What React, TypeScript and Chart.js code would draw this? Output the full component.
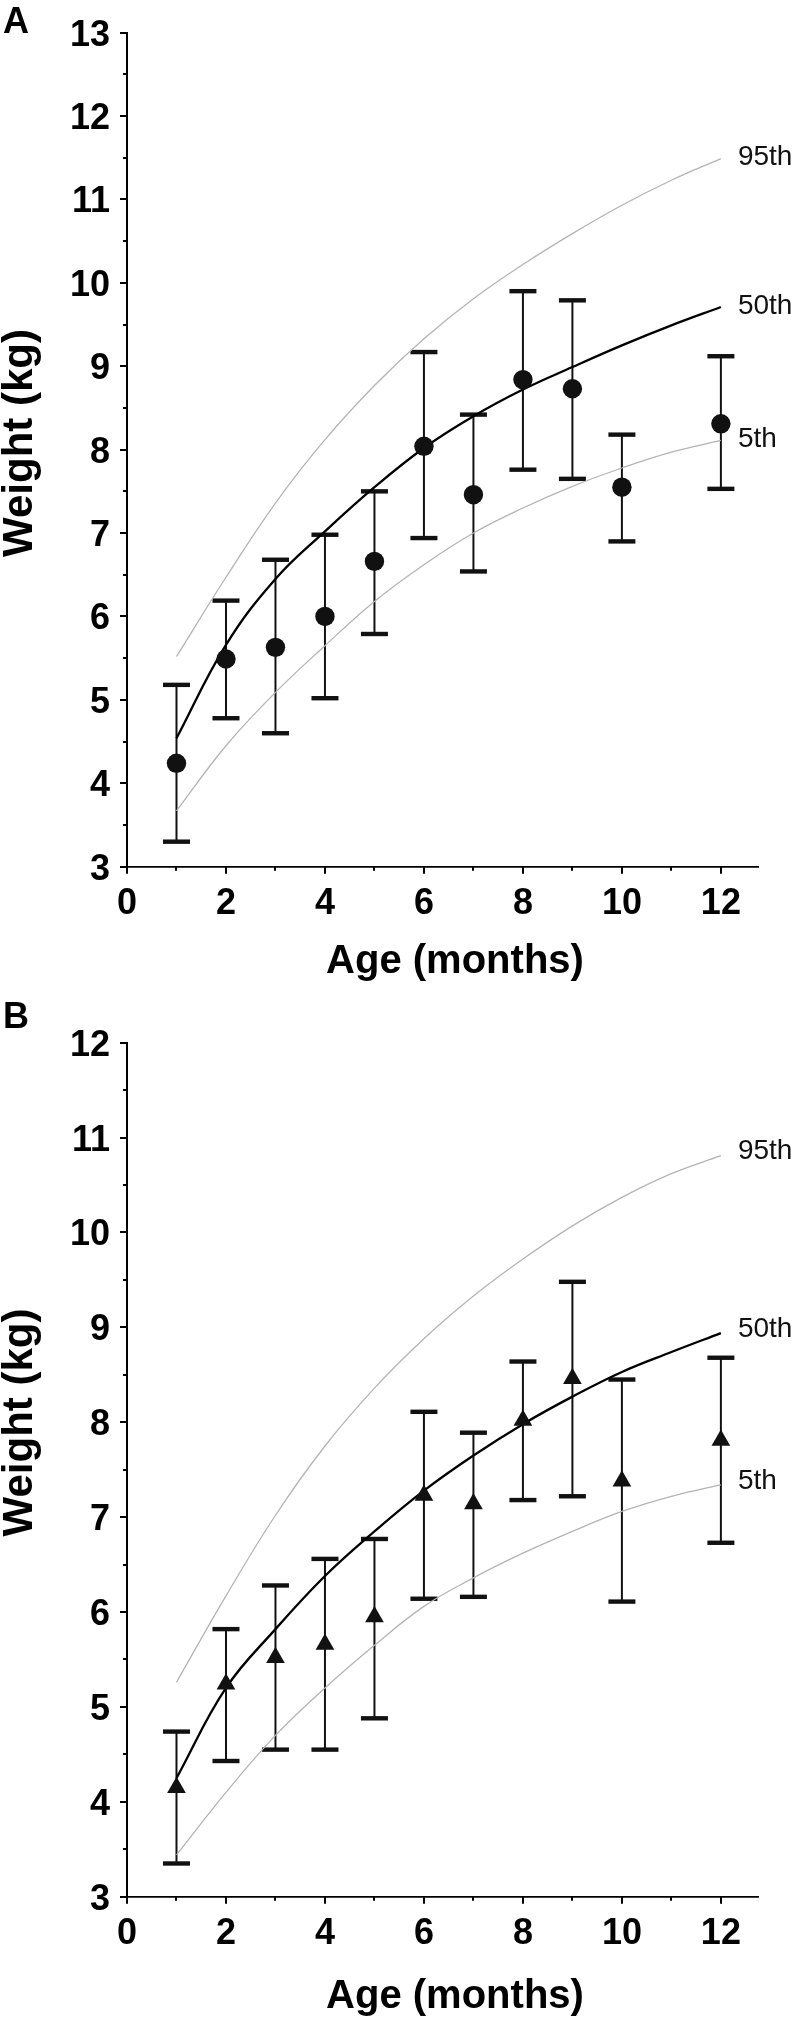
import React, { useEffect, useRef } from "react";
import { Chart, registerables } from "chart.js";

Chart.register(...registerables);

const FONT = '"Liberation Sans", Arial, Helvetica, sans-serif';

// ---------- data ----------
const MONTHS_OBS = [1, 2, 3, 4, 5, 6, 7, 8, 9, 10, 12];
const MONTHS_REF = [1, 2, 3, 4, 5, 6, 7, 8, 9, 10, 11, 12];
const X_TICK_LABELS = ["0", "2", "4", "6", "8", "10", "12"];
const Y_TICK_LABELS_A = ["3", "4", "5", "6", "7", "8", "9", "10", "11", "12", "13"];
const Y_TICK_LABELS_B = ["3", "4", "5", "6", "7", "8", "9", "10", "11", "12"];
const PERCENTILE_LABELS = ["95th", "50th", "5th"];
const X_TITLE = "Age (months)";
const Y_TITLE = "Weight (kg)";

// Panel A (circles)
const meanA = [4.24, 5.49, 5.63, 6.0, 6.66, 8.04, 7.46, 8.84, 8.73, 7.55, 8.31];
const upperA = [5.18, 6.19, 6.68, 6.98, 7.5, 9.17, 8.42, 9.9, 9.79, 8.18, 9.12];
const lowerA = [3.3, 4.78, 4.6, 5.02, 5.79, 6.94, 6.54, 7.76, 7.65, 6.9, 7.53];
const p95A = [5.52, 6.47, 7.36, 8.12, 8.77, 9.33, 9.81, 10.22, 10.59, 10.93, 11.23, 11.49];
const p50A = [4.54, 5.66, 6.45, 7.02, 7.55, 8.02, 8.4, 8.72, 8.99, 9.25, 9.49, 9.71];
const p5A = [3.67, 4.45, 5.09, 5.65, 6.18, 6.62, 7.0, 7.3, 7.56, 7.78, 7.97, 8.11];

// Panel B (triangles)
const meanB = [4.15, 5.24, 5.52, 5.66, 5.95, 7.23, 7.14, 8.02, 8.46, 7.38, 7.81];
const upperB = [4.74, 5.82, 6.28, 6.56, 6.77, 8.11, 7.89, 8.64, 9.48, 8.45, 8.68];
const lowerB = [3.35, 4.43, 4.55, 4.55, 4.88, 6.14, 6.16, 7.18, 7.22, 6.11, 6.73];
const p95B = [5.26, 6.17, 7.02, 7.75, 8.36, 8.88, 9.33, 9.72, 10.07, 10.37, 10.62, 10.81];
const p50B = [4.25, 5.2, 5.82, 6.38, 6.85, 7.28, 7.65, 7.98, 8.27, 8.53, 8.74, 8.94];
const p5B = [3.44, 4.1, 4.7, 5.2, 5.65, 6.06, 6.36, 6.62, 6.85, 7.06, 7.22, 7.34];

type PanelSpec = {
  letter: string;
  top: number;
  height: number;
  padTop: number;
  chartBottom: number;
  yMin: number;
  yMax: number;
  yTicks: string[];
  mean: number[];
  upper: number[];
  lower: number[];
  p95: number[];
  p50: number[];
  p5: number[];
  marker: "circle" | "triangle";
  markerRadius: number;
  letterBaseline: number;
  yTitleCenter: number;
  xTitleBaseline: number;
  labelDy: number;
};

// positions below are relative to each panel's own canvas
const PANELS: PanelSpec[] = [
  {
    letter: "A",
    top: 0,
    height: 1000,
    padTop: 12.3,
    chartBottom: 866.7,
    yMin: 3,
    yMax: 13,
    yTicks: Y_TICK_LABELS_A,
    mean: meanA,
    upper: upperA,
    lower: lowerA,
    p95: p95A,
    p50: p50A,
    p5: p5A,
    marker: "circle",
    markerRadius: 9.7,
    letterBaseline: 33,
    yTitleCenter: 443,
    xTitleBaseline: 973,
    labelDy: -1,
  },
  {
    letter: "B",
    top: 1000,
    height: 1017,
    padTop: 42.7,
    chartBottom: 896.7,
    yMin: 3,
    yMax: 12,
    yTicks: Y_TICK_LABELS_B,
    mean: meanB,
    upper: upperB,
    lower: lowerB,
    p95: p95B,
    p50: p50B,
    p5: p5B,
    marker: "triangle",
    markerRadius: 10.8,
    letterBaseline: 28,
    yTitleCenter: 422.5,
    xTitleBaseline: 1008,
    labelDy: -4,
  },
];

const WIDTH = 797;
const Y_AXIS_WIDTH = 127;
const X_MAX = 12.75;

function makeDecorPlugin(p: PanelSpec) {
  return {
    id: "decor" + p.letter,
    beforeDatasetsDraw(chart: any) {
      const ctx = chart.ctx;
      const xs = chart.scales.x;
      const ys = chart.scales.y;
      ctx.save();
      ctx.strokeStyle = "#111";
      ctx.fillStyle = "#111";
      ctx.lineWidth = 2;
      MONTHS_OBS.forEach((m, i) => {
        const px = xs.getPixelForValue(m);
        const yU = ys.getPixelForValue(p.upper[i]);
        const yL = ys.getPixelForValue(p.lower[i]);
        ctx.beginPath();
        ctx.moveTo(px, yU);
        ctx.lineTo(px, yL);
        ctx.stroke();
        ctx.fillRect(px - 13.5, yU - 2.2, 27, 4.4);
        ctx.fillRect(px - 13.5, yL - 2.2, 27, 4.4);
      });
      ctx.restore();
    },
    afterDraw(chart: any) {
      const ctx = chart.ctx;
      const xs = chart.scales.x;
      const ys = chart.scales.y;
      ctx.save();
      // tick marks (major / minor)
      ctx.strokeStyle = "#000";
      ctx.lineWidth = 2;
      ctx.beginPath();
      xs.ticks.forEach((t: any) => {
        const px = Math.round(xs.getPixelForValue(t.value));
        const major = X_TICK_LABELS.includes(String(t.value));
        ctx.moveTo(px, xs.top);
        ctx.lineTo(px, xs.top + (major ? 7 : 4));
      });
      ys.ticks.forEach((t: any) => {
        const py = Math.round(ys.getPixelForValue(t.value));
        const major = p.yTicks.includes(String(t.value));
        ctx.moveTo(ys.right, py);
        ctx.lineTo(ys.right - (major ? 7 : 4), py);
      });
      ctx.stroke();

      // percentile labels at end of curves
      ctx.fillStyle = "#111";
      ctx.font = `28px ${FONT}`;
      ctx.textAlign = "left";
      ctx.textBaseline = "middle";
      const lastX = MONTHS_REF[MONTHS_REF.length - 1];
      const ends = [p.p95, p.p50, p.p5];
      ends.forEach((arr, k) => {
        const px = xs.getPixelForValue(lastX) + 17;
        const py = ys.getPixelForValue(arr[arr.length - 1]) + p.labelDy;
        ctx.fillText(PERCENTILE_LABELS[k], px, py);
      });

      // axis titles
      ctx.fillStyle = "#000";
      ctx.font = `bold 40px ${FONT}`;
      ctx.textAlign = "center";
      ctx.textBaseline = "alphabetic";
      ctx.fillText(X_TITLE, 455, p.xTitleBaseline);

      ctx.save();
      ctx.translate(32, p.yTitleCenter);
      ctx.rotate(-Math.PI / 2);
      ctx.font = `bold 42px ${FONT}`;
      ctx.textAlign = "center";
      ctx.textBaseline = "alphabetic";
      ctx.fillText(Y_TITLE, 0, 0);
      ctx.restore();

      // panel letter
      ctx.font = `bold 36px ${FONT}`;
      ctx.textAlign = "left";
      ctx.textBaseline = "alphabetic";
      ctx.fillText(p.letter, 3, p.letterBaseline);
      ctx.restore();
    },
  };
}

function Panel({ spec }: { spec: PanelSpec }) {
  const ref = useRef<HTMLCanvasElement | null>(null);

  useEffect(() => {
    const canvas = ref.current;
    if (!canvas) return;
    const p = spec;
    const toPts = (xs: number[], ys: number[]) => xs.map((x, i) => ({ x, y: ys[i] }));
    const grey = "#b4b4b4";
    const chart = new Chart(canvas, {
      type: "line",
      data: {
        datasets: [
          {
            label: "mean",
            data: toPts(MONTHS_OBS, p.mean),
            showLine: false,
            pointStyle: p.marker,
            pointRadius: p.markerRadius,
            pointHoverRadius: p.markerRadius,
            pointBackgroundColor: "#111",
            pointBorderWidth: 0,
            pointBorderColor: "#111",
            order: 0,
          },
          {
            label: PERCENTILE_LABELS[1],
            data: toPts(MONTHS_REF, p.p50),
            borderColor: "#000",
            borderWidth: 2.3,
            pointRadius: 0,
            tension: 0.4,
            fill: false,
            order: 1,
          },
          {
            label: PERCENTILE_LABELS[0],
            data: toPts(MONTHS_REF, p.p95),
            borderColor: grey,
            borderWidth: 1.3,
            pointRadius: 0,
            tension: 0.4,
            fill: false,
            order: 2,
          },
          {
            label: PERCENTILE_LABELS[2],
            data: toPts(MONTHS_REF, p.p5),
            borderColor: grey,
            borderWidth: 1.3,
            pointRadius: 0,
            tension: 0.4,
            fill: false,
            order: 3,
          },
        ],
      },
      options: {
        responsive: false,
        animation: false,
        devicePixelRatio: 1,
        events: [],
        layout: {
          autoPadding: false,
          padding: { top: p.padTop, right: WIDTH - 758, bottom: 0, left: 0 },
        },
        plugins: {
          legend: { display: false },
          tooltip: { enabled: false },
          title: { display: false },
        },
        scales: {
          x: {
            type: "linear",
            min: 0,
            max: X_MAX,
            afterFit: (s: any) => {
              s.height = p.height - p.chartBottom;
            },
            ticks: {
              stepSize: 1,
              includeBounds: false,
              autoSkip: false,
              maxRotation: 0,
              minRotation: 0,
              padding: 10,
              color: "#000",
              font: { family: FONT, size: 36, weight: "bold", lineHeight: 1.2 },
              callback: (v: any) => (X_TICK_LABELS.includes(String(v)) ? String(v) : ""),
            },
            grid: {
              display: true,
              drawOnChartArea: false,
              drawTicks: true,
              tickLength: 6,
              tickColor: "rgba(0,0,0,0)",
            },
            border: { display: true, color: "#000", width: 1.7 },
          },
          y: {
            type: "linear",
            min: p.yMin,
            max: p.yMax,
            afterFit: (s: any) => {
              s.width = Y_AXIS_WIDTH;
            },
            ticks: {
              stepSize: 0.5,
              includeBounds: false,
              autoSkip: false,
              padding: 11,
              labelOffset: 3,
              color: "#000",
              font: { family: FONT, size: 36, weight: "bold", lineHeight: 1.2 },
              callback: (v: any) => (p.yTicks.includes(String(v)) ? String(v) : ""),
            },
            grid: {
              display: true,
              drawOnChartArea: false,
              drawTicks: true,
              tickLength: 6,
              tickColor: "rgba(0,0,0,0)",
            },
            border: { display: true, color: "#000", width: 2 },
          },
        },
      } as any,
      plugins: [makeDecorPlugin(p)],
    });
    return () => chart.destroy();
  }, [spec]);

  return (
    <canvas
      ref={ref}
      width={WIDTH}
      height={spec.height}
      style={{
        position: "absolute",
        left: 0,
        top: spec.top,
        width: WIDTH,
        height: spec.height,
        display: "block",
      }}
    />
  );
}

export default function App() {
  return (
    <div
      style={{
        position: "absolute",
        left: 0,
        top: 0,
        width: WIDTH,
        height: 2017,
        background: "#fff",
        overflow: "hidden",
      }}
    >
      {PANELS.map((s) => (
        <Panel key={s.letter} spec={s} />
      ))}
    </div>
  );
}
